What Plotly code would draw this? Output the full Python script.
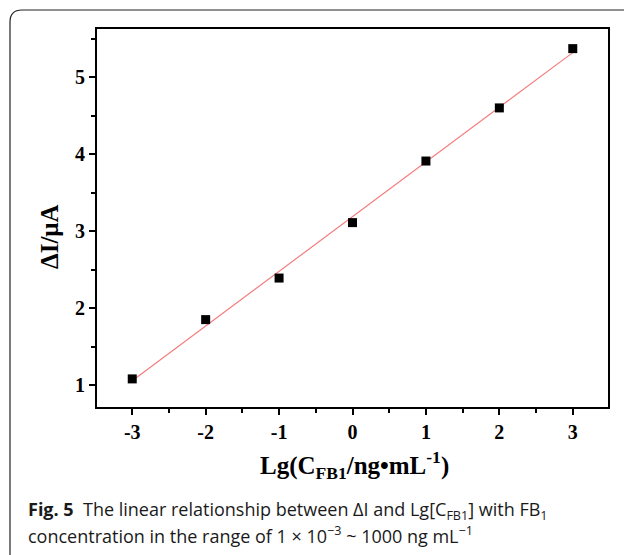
import numpy as np
import plotly.graph_objects as go

# ---- data ----
lg_conc = [-3, -2, -1, 0, 1, 2, 3]
delta_i = [1.08, 1.85, 2.39, 3.11, 3.91, 4.60, 5.37]

x_tickvals = [-3, -2, -1, 0, 1, 2, 3]
x_ticktext = ["-3", "-2", "-1", "0", "1", "2", "3"]
y_tickvals = [1, 2, 3, 4, 5]
y_ticktext = ["1", "2", "3", "4", "5"]

# linear fit of the data
slope, intercept = np.polyfit(lg_conc, delta_i, 1)
fit_x = [lg_conc[0], lg_conc[-1]]
fit_y = [slope * v + intercept for v in fit_x]

W, H = 624, 555
L, R, T, B = 97, 16, 29, 148
pw, ph = W - L - R, H - T - B


def px(xp):
    return (xp - L) / pw


def py(yp):
    return (H - B - yp) / ph


fig = go.Figure()
fig.add_trace(go.Scatter(x=fit_x, y=fit_y, mode="lines",
                         line=dict(color="#f47c7c", width=1.2),
                         hoverinfo="skip", showlegend=False))
fig.add_trace(go.Scatter(x=lg_conc, y=delta_i, mode="markers",
                         marker=dict(symbol="square", size=9, color="black",
                                     line=dict(width=0)),
                         showlegend=False))

tick_font = dict(family="Liberation Serif", size=20, color="black")

fig.update_xaxes(range=[-3.48, 3.48], tickvals=x_tickvals,
                 ticktext=[f"<b>{t}</b>" for t in x_ticktext],
                 ticks="outside", ticklen=6, tickwidth=1.5, tickcolor="black",
                 minor=dict(tickvals=[-2.5, -1.5, -0.5, 0.5, 1.5, 2.5],
                            ticks="outside", ticklen=4, tickwidth=1.5,
                            tickcolor="black"),
                 showline=True, linecolor="black", linewidth=1.8, mirror=True,
                 showgrid=False, zeroline=False, tickfont=tick_font)
fig.update_yaxes(range=[0.715, 5.625], tickvals=y_tickvals,
                 ticktext=[f"<b>{t}</b>" for t in y_ticktext],
                 ticks="outside", ticklen=6, tickwidth=1.5, tickcolor="black",
                 minor=dict(tickvals=[1.5, 2.5, 3.5, 4.5, 5.5],
                            ticks="outside", ticklen=4, tickwidth=1.5,
                            tickcolor="black"),
                 showline=True, linecolor="black", linewidth=1.8, mirror=True,
                 showgrid=False, zeroline=False, tickfont=tick_font)

# outer rounded frame
x0, x1, x2 = px(10), px(22), px(640)
y0, y1, y2 = py(10), py(22), py(570)
path = (f"M {x0} {y2} L {x0} {y1} Q {x0} {y0} {x1} {y0} L {x2} {y0}")
fig.add_shape(type="path", path=path, xref="paper", yref="paper",
              line=dict(color="#222222", width=1.2))

title_font = dict(family="Liberation Serif", size=25, color="black")
fig.add_annotation(x=px(49), y=py(237), xref="paper", yref="paper",
                   text="<b>ΔI/μA</b>", textangle=-90, showarrow=False,
                   font=title_font, xanchor="center", yanchor="middle")
fig.add_annotation(x=px(354), y=py(465), xref="paper", yref="paper",
                   text="<b>Lg(C<sub>FB1</sub>/ng•mL<sup>-1</sup>)</b>",
                   showarrow=False, font=title_font,
                   xanchor="center", yanchor="middle")

cap_font = dict(family="Open Sans", size=18, color="#1a1a1a")
fig.add_annotation(x=px(26), y=py(510), xref="paper", yref="paper",
                   text=("<b>Fig. 5</b>  The linear relationship between ΔI and "
                         "Lg[C<sub>FB1</sub>] with FB<sub>1</sub>"),
                   showarrow=False, align="left", xanchor="left", yanchor="middle",
                   font=cap_font)
fig.add_annotation(x=px(26), y=py(535), xref="paper", yref="paper",
                   text=("concentration in the range of 1 × 10<sup>−3</sup> ~ "
                         "1000 ng mL<sup>−1</sup>"),
                   showarrow=False, align="left", xanchor="left", yanchor="middle",
                   font=cap_font)

fig.update_layout(width=W, height=H,
                  margin=dict(l=L, r=R, t=T, b=B),
                  paper_bgcolor="white", plot_bgcolor="white")

fig.write_html("out.html", config={"displayModeBar": False},
               post_script="document.body.style.margin='0px';")
